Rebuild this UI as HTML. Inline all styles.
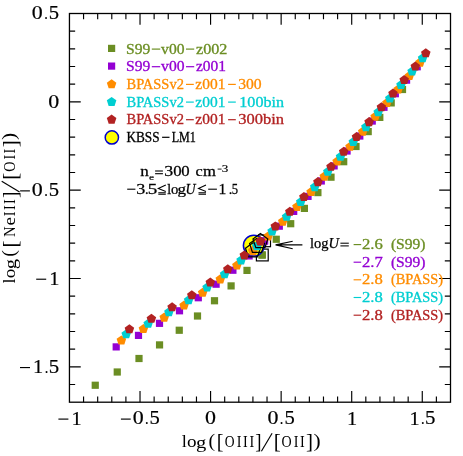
<!DOCTYPE html>
<html lang="en"><head><meta charset="utf-8"><title>chart</title><style>html,body{margin:0;padding:0;background:#fff}svg{display:block;will-change:transform}</style></head><body>
<svg width="463" height="456" viewBox="0 0 463 456">
<rect width="463" height="456" fill="#fff"/>
<g>
<rect x="91.65" y="381.65" width="7.20" height="7.20" fill="#6b8e23"/>
<rect x="113.65" y="368.40" width="7.20" height="7.20" fill="#6b8e23"/>
<rect x="135.40" y="354.90" width="7.20" height="7.20" fill="#6b8e23"/>
<rect x="155.95" y="341.30" width="7.20" height="7.20" fill="#6b8e23"/>
<rect x="175.65" y="326.65" width="7.20" height="7.20" fill="#6b8e23"/>
<rect x="193.90" y="312.40" width="7.20" height="7.20" fill="#6b8e23"/>
<rect x="210.90" y="297.15" width="7.20" height="7.20" fill="#6b8e23"/>
<rect x="227.50" y="282.30" width="7.20" height="7.20" fill="#6b8e23"/>
<rect x="243.40" y="266.80" width="7.20" height="7.20" fill="#6b8e23"/>
<rect x="258.40" y="251.40" width="7.20" height="7.20" fill="#6b8e23"/>
<rect x="272.65" y="235.65" width="7.20" height="7.20" fill="#6b8e23"/>
<rect x="287.10" y="220.10" width="7.20" height="7.20" fill="#6b8e23"/>
<rect x="300.80" y="204.80" width="7.20" height="7.20" fill="#6b8e23"/>
<rect x="314.30" y="189.00" width="7.20" height="7.20" fill="#6b8e23"/>
<rect x="327.40" y="173.60" width="7.20" height="7.20" fill="#6b8e23"/>
<rect x="340.10" y="158.10" width="7.20" height="7.20" fill="#6b8e23"/>
<rect x="352.40" y="142.90" width="7.20" height="7.20" fill="#6b8e23"/>
<rect x="364.60" y="128.00" width="7.20" height="7.20" fill="#6b8e23"/>
<rect x="376.20" y="113.80" width="7.20" height="7.20" fill="#6b8e23"/>
<rect x="387.60" y="99.30" width="7.20" height="7.20" fill="#6b8e23"/>
<rect x="398.90" y="85.90" width="7.20" height="7.20" fill="#6b8e23"/>
<rect x="256.40" y="249.10" width="11.80" height="11.80" fill="none" stroke="#000" stroke-width="1.2"/>
<rect x="258.70" y="251.40" width="7.20" height="7.20" fill="#6b8e23"/>
<rect x="112.60" y="343.30" width="7.20" height="7.20" fill="#9400d3"/>
<rect x="134.90" y="331.79" width="7.20" height="7.20" fill="#9400d3"/>
<rect x="155.90" y="319.74" width="7.20" height="7.20" fill="#9400d3"/>
<rect x="175.90" y="307.18" width="7.20" height="7.20" fill="#9400d3"/>
<rect x="194.70" y="294.14" width="7.20" height="7.20" fill="#9400d3"/>
<rect x="212.50" y="280.60" width="7.20" height="7.20" fill="#9400d3"/>
<rect x="229.30" y="266.63" width="7.20" height="7.20" fill="#9400d3"/>
<rect x="245.50" y="252.31" width="7.20" height="7.20" fill="#9400d3"/>
<rect x="260.90" y="237.42" width="7.20" height="7.20" fill="#9400d3"/>
<rect x="275.70" y="222.59" width="7.20" height="7.20" fill="#9400d3"/>
<rect x="290.10" y="207.77" width="7.20" height="7.20" fill="#9400d3"/>
<rect x="304.44" y="192.77" width="7.20" height="7.20" fill="#9400d3"/>
<rect x="317.68" y="177.38" width="7.20" height="7.20" fill="#9400d3"/>
<rect x="330.52" y="162.29" width="7.20" height="7.20" fill="#9400d3"/>
<rect x="343.46" y="147.41" width="7.20" height="7.20" fill="#9400d3"/>
<rect x="356.20" y="132.43" width="7.20" height="7.20" fill="#9400d3"/>
<rect x="368.64" y="117.46" width="7.20" height="7.20" fill="#9400d3"/>
<rect x="380.38" y="103.68" width="7.20" height="7.20" fill="#9400d3"/>
<rect x="391.72" y="90.11" width="7.20" height="7.20" fill="#9400d3"/>
<rect x="402.96" y="76.54" width="7.20" height="7.20" fill="#9400d3"/>
<rect x="413.60" y="63.16" width="7.20" height="7.20" fill="#9400d3"/>
<rect x="258.70" y="234.90" width="11.80" height="11.80" fill="none" stroke="#000" stroke-width="1.2"/>
<rect x="261.00" y="237.20" width="7.20" height="7.20" fill="#9400d3"/>
<circle cx="253.8" cy="245.6" r="10.4" fill="#ffff00" stroke="#0000cd" stroke-width="1.5"/>
<polygon points="121.40,335.40 126.16,338.85 124.34,344.45 118.46,344.45 116.64,338.85" fill="#ff8c00"/>
<polygon points="143.42,324.05 148.17,327.50 146.35,333.10 140.48,333.10 138.66,327.50" fill="#ff8c00"/>
<polygon points="164.23,312.60 168.99,316.05 167.17,321.65 161.29,321.65 159.47,316.05" fill="#ff8c00"/>
<polygon points="184.05,300.45 188.80,303.90 186.98,309.50 181.11,309.50 179.29,303.90" fill="#ff8c00"/>
<polygon points="202.66,287.70 207.42,291.15 205.60,296.75 199.72,296.75 197.90,291.15" fill="#ff8c00"/>
<polygon points="220.28,274.35 225.03,277.80 223.21,283.40 217.34,283.40 215.52,277.80" fill="#ff8c00"/>
<polygon points="236.89,260.50 241.65,263.95 239.83,269.55 233.95,269.55 232.13,263.95" fill="#ff8c00"/>
<polygon points="252.91,246.25 257.66,249.70 255.84,255.30 249.97,255.30 248.15,249.70" fill="#ff8c00"/>
<polygon points="268.12,231.40 272.88,234.85 271.06,240.45 265.18,240.45 263.36,234.85" fill="#ff8c00"/>
<polygon points="282.74,216.65 287.49,220.10 285.67,225.70 279.80,225.70 277.98,220.10" fill="#ff8c00"/>
<polygon points="296.95,201.90 301.71,205.35 299.89,210.95 294.01,210.95 292.19,205.35" fill="#ff8c00"/>
<polygon points="311.06,186.95 315.82,190.40 314.00,196.00 308.13,196.00 306.31,190.40" fill="#ff8c00"/>
<polygon points="324.28,171.60 329.04,175.05 327.22,180.65 321.34,180.65 319.52,175.05" fill="#ff8c00"/>
<polygon points="337.09,156.55 341.85,160.00 340.03,165.60 334.16,165.60 332.34,160.00" fill="#ff8c00"/>
<polygon points="350.01,141.70 354.77,145.15 352.95,150.75 347.07,150.75 345.25,145.15" fill="#ff8c00"/>
<polygon points="362.73,126.75 367.48,130.20 365.66,135.80 359.79,135.80 357.97,130.20" fill="#ff8c00"/>
<polygon points="375.14,111.80 379.90,115.25 378.08,120.85 372.20,120.85 370.38,115.25" fill="#ff8c00"/>
<polygon points="386.85,98.05 391.61,101.50 389.79,107.10 383.92,107.10 382.10,101.50" fill="#ff8c00"/>
<polygon points="398.17,84.50 402.93,87.95 401.11,93.55 395.23,93.55 393.41,87.95" fill="#ff8c00"/>
<polygon points="409.38,70.95 414.14,74.40 412.32,80.00 406.45,80.00 404.63,74.40" fill="#ff8c00"/>
<polygon points="420.00,57.60 424.76,61.05 422.94,66.65 417.06,66.65 415.24,61.05" fill="#ff8c00"/>
<polygon points="252.90,242.80 260.32,248.19 257.48,256.91 248.32,256.91 245.48,248.19" fill="none" stroke="#000" stroke-width="1.2" stroke-linejoin="miter"/>
<polygon points="252.90,245.60 257.66,249.05 255.84,254.65 249.96,254.65 248.14,249.05" fill="#ff8c00"/>
<polygon points="126.20,329.30 130.96,332.75 129.14,338.35 123.26,338.35 121.44,332.75" fill="#00ced1"/>
<polygon points="148.20,318.70 152.96,322.15 151.14,327.75 145.26,327.75 143.44,322.15" fill="#00ced1"/>
<polygon points="168.90,307.30 173.66,310.75 171.84,316.35 165.96,316.35 164.14,310.75" fill="#00ced1"/>
<polygon points="188.60,295.20 193.36,298.65 191.54,304.25 185.66,304.25 183.84,298.65" fill="#00ced1"/>
<polygon points="207.10,282.50 211.86,285.95 210.04,291.55 204.16,291.55 202.34,285.95" fill="#00ced1"/>
<polygon points="224.60,269.20 229.36,272.65 227.54,278.25 221.66,278.25 219.84,272.65" fill="#00ced1"/>
<polygon points="241.10,255.40 245.86,258.85 244.04,264.45 238.16,264.45 236.34,258.85" fill="#00ced1"/>
<polygon points="257.00,241.20 261.76,244.65 259.94,250.25 254.06,250.25 252.24,244.65" fill="#00ced1"/>
<polygon points="272.10,226.40 276.86,229.85 275.04,235.45 269.16,235.45 267.34,229.85" fill="#00ced1"/>
<polygon points="286.60,211.70 291.36,215.15 289.54,220.75 283.66,220.75 281.84,215.15" fill="#00ced1"/>
<polygon points="300.70,197.00 305.46,200.45 303.64,206.05 297.76,206.05 295.94,200.45" fill="#00ced1"/>
<polygon points="314.70,182.10 319.46,185.55 317.64,191.15 311.76,191.15 309.94,185.55" fill="#00ced1"/>
<polygon points="327.80,166.80 332.56,170.25 330.74,175.85 324.86,175.85 323.04,170.25" fill="#00ced1"/>
<polygon points="340.50,151.80 345.26,155.25 343.44,160.85 337.56,160.85 335.74,155.25" fill="#00ced1"/>
<polygon points="353.30,137.00 358.06,140.45 356.24,146.05 350.36,146.05 348.54,140.45" fill="#00ced1"/>
<polygon points="365.90,122.10 370.66,125.55 368.84,131.15 362.96,131.15 361.14,125.55" fill="#00ced1"/>
<polygon points="378.20,107.20 382.96,110.65 381.14,116.25 375.26,116.25 373.44,110.65" fill="#00ced1"/>
<polygon points="389.80,93.50 394.56,96.95 392.74,102.55 386.86,102.55 385.04,96.95" fill="#00ced1"/>
<polygon points="401.00,80.00 405.76,83.45 403.94,89.05 398.06,89.05 396.24,83.45" fill="#00ced1"/>
<polygon points="412.10,66.50 416.86,69.95 415.04,75.55 409.16,75.55 407.34,69.95" fill="#00ced1"/>
<polygon points="422.60,53.20 427.36,56.65 425.54,62.25 419.66,62.25 417.84,56.65" fill="#00ced1"/>
<polygon points="257.00,238.20 264.42,243.59 261.58,252.31 252.42,252.31 249.58,243.59" fill="none" stroke="#000" stroke-width="1.2" stroke-linejoin="miter"/>
<polygon points="257.00,241.00 261.76,244.45 259.94,250.05 254.06,250.05 252.24,244.45" fill="#00ced1"/>
<polygon points="129.40,324.30 134.16,327.75 132.34,333.35 126.46,333.35 124.64,327.75" fill="#b22222"/>
<polygon points="151.40,313.70 156.16,317.15 154.34,322.75 148.46,322.75 146.64,317.15" fill="#b22222"/>
<polygon points="172.10,302.30 176.86,305.75 175.04,311.35 169.16,311.35 167.34,305.75" fill="#b22222"/>
<polygon points="191.80,290.20 196.56,293.65 194.74,299.25 188.86,299.25 187.04,293.65" fill="#b22222"/>
<polygon points="210.30,277.50 215.06,280.95 213.24,286.55 207.36,286.55 205.54,280.95" fill="#b22222"/>
<polygon points="227.80,264.20 232.56,267.65 230.74,273.25 224.86,273.25 223.04,267.65" fill="#b22222"/>
<polygon points="244.30,250.40 249.06,253.85 247.24,259.45 241.36,259.45 239.54,253.85" fill="#b22222"/>
<polygon points="260.20,236.20 264.96,239.65 263.14,245.25 257.26,245.25 255.44,239.65" fill="#b22222"/>
<polygon points="275.30,221.40 280.06,224.85 278.24,230.45 272.36,230.45 270.54,224.85" fill="#b22222"/>
<polygon points="289.80,206.70 294.56,210.15 292.74,215.75 286.86,215.75 285.04,210.15" fill="#b22222"/>
<polygon points="303.90,192.00 308.66,195.45 306.84,201.05 300.96,201.05 299.14,195.45" fill="#b22222"/>
<polygon points="317.90,177.10 322.66,180.55 320.84,186.15 314.96,186.15 313.14,180.55" fill="#b22222"/>
<polygon points="331.00,161.80 335.76,165.25 333.94,170.85 328.06,170.85 326.24,165.25" fill="#b22222"/>
<polygon points="343.70,146.80 348.46,150.25 346.64,155.85 340.76,155.85 338.94,150.25" fill="#b22222"/>
<polygon points="356.50,132.00 361.26,135.45 359.44,141.05 353.56,141.05 351.74,135.45" fill="#b22222"/>
<polygon points="369.10,117.10 373.86,120.55 372.04,126.15 366.16,126.15 364.34,120.55" fill="#b22222"/>
<polygon points="381.40,102.20 386.16,105.65 384.34,111.25 378.46,111.25 376.64,105.65" fill="#b22222"/>
<polygon points="393.00,88.50 397.76,91.95 395.94,97.55 390.06,97.55 388.24,91.95" fill="#b22222"/>
<polygon points="404.20,75.00 408.96,78.45 407.14,84.05 401.26,84.05 399.44,78.45" fill="#b22222"/>
<polygon points="415.30,61.50 420.06,64.95 418.24,70.55 412.36,70.55 410.54,64.95" fill="#b22222"/>
<polygon points="425.80,48.20 430.56,51.65 428.74,57.25 422.86,57.25 421.04,51.65" fill="#b22222"/>
<polygon points="260.40,233.60 267.82,238.99 264.98,247.71 255.82,247.71 252.98,238.99" fill="none" stroke="#000" stroke-width="1.2" stroke-linejoin="miter"/>
<polygon points="260.40,236.40 265.16,239.85 263.34,245.45 257.46,245.45 255.64,239.85" fill="#b22222"/>
</g>
<g stroke="#000" stroke-width="1.3" fill="none" stroke-linecap="butt">
<rect x="69.45" y="13.5" width="381.05" height="388.70"/>
<path stroke-width="1.15" d="M83.56 402.2v-5.7M83.56 13.5v5.7M97.68 402.2v-5.7M97.68 13.5v5.7M111.79 402.2v-5.7M111.79 13.5v5.7M125.90 402.2v-5.7M125.90 13.5v5.7M140.02 402.2v-11.3M140.02 13.5v11.3M154.13 402.2v-5.7M154.13 13.5v5.7M168.24 402.2v-5.7M168.24 13.5v5.7M182.35 402.2v-5.7M182.35 13.5v5.7M196.47 402.2v-5.7M196.47 13.5v5.7M210.58 402.2v-11.3M210.58 13.5v11.3M224.69 402.2v-5.7M224.69 13.5v5.7M238.81 402.2v-5.7M238.81 13.5v5.7M252.92 402.2v-5.7M252.92 13.5v5.7M267.03 402.2v-5.7M267.03 13.5v5.7M281.14 402.2v-11.3M281.14 13.5v11.3M295.26 402.2v-5.7M295.26 13.5v5.7M309.37 402.2v-5.7M309.37 13.5v5.7M323.48 402.2v-5.7M323.48 13.5v5.7M337.60 402.2v-5.7M337.60 13.5v5.7M351.71 402.2v-11.3M351.71 13.5v11.3M365.82 402.2v-5.7M365.82 13.5v5.7M379.94 402.2v-5.7M379.94 13.5v5.7M394.05 402.2v-5.7M394.05 13.5v5.7M408.16 402.2v-5.7M408.16 13.5v5.7M422.27 402.2v-11.3M422.27 13.5v11.3M436.39 402.2v-5.7M436.39 13.5v5.7M69.45 384.53h5.7M450.5 384.53h-5.7M69.45 366.86h11.3M450.5 366.86h-11.3M69.45 349.19h5.7M450.5 349.19h-5.7M69.45 331.52h5.7M450.5 331.52h-5.7M69.45 313.86h5.7M450.5 313.86h-5.7M69.45 296.19h5.7M450.5 296.19h-5.7M69.45 278.52h11.3M450.5 278.52h-11.3M69.45 260.85h5.7M450.5 260.85h-5.7M69.45 243.18h5.7M450.5 243.18h-5.7M69.45 225.52h5.7M450.5 225.52h-5.7M69.45 207.85h5.7M450.5 207.85h-5.7M69.45 190.18h11.3M450.5 190.18h-11.3M69.45 172.51h5.7M450.5 172.51h-5.7M69.45 154.84h5.7M450.5 154.84h-5.7M69.45 137.18h5.7M450.5 137.18h-5.7M69.45 119.51h5.7M450.5 119.51h-5.7M69.45 101.84h11.3M450.5 101.84h-11.3M69.45 84.17h5.7M450.5 84.17h-5.7M69.45 66.50h5.7M450.5 66.50h-5.7M69.45 48.84h5.7M450.5 48.84h-5.7M69.45 31.17h5.7M450.5 31.17h-5.7"/>
</g>
<g font-size="20" font-family="Liberation Serif, serif" fill="#000" stroke="#000" stroke-width="0.2">
<path d="M58.40 419.10H68.40" stroke="#000" stroke-width="1.15"/><text transform="matrix(1.0226 0 0 0.9240 71.50 424.50)">1</text>
<path d="M120.92 419.10H130.72" stroke="#000" stroke-width="1.15"/><text transform="matrix(1.0971 0 0 0.9040 132.68 424.32)">0</text><text transform="matrix(0.7193 0 0 0.8040 144.97 424.27)">.</text><text transform="matrix(1.0302 0 0 0.9179 149.62 424.32)">5</text>
<text transform="matrix(1.0971 0 0 0.9040 205.09 424.32)">0</text>
<text transform="matrix(1.0971 0 0 0.9040 267.51 424.32)">0</text><text transform="matrix(0.7193 0 0 0.8040 279.80 424.27)">.</text><text transform="matrix(1.0302 0 0 0.9179 284.45 424.32)">5</text>
<text transform="matrix(1.0226 0 0 0.9240 346.91 424.50)">1</text>
<text transform="matrix(1.0226 0 0 0.9240 409.38 424.50)">1</text><text transform="matrix(0.7193 0 0 0.8040 420.93 424.27)">.</text><text transform="matrix(1.0426 0 0 0.9179 424.96 424.32)">5</text>
<text transform="matrix(1.0971 0 0 0.9040 31.86 19.42)">0</text><text transform="matrix(0.7193 0 0 0.8040 44.15 19.37)">.</text><text transform="matrix(1.0302 0 0 0.9179 48.80 19.42)">5</text>
<text transform="matrix(1.0971 0 0 0.9040 48.16 107.76)">0</text>
<path d="M20.10 190.88H29.90" stroke="#000" stroke-width="1.15"/><text transform="matrix(1.0971 0 0 0.9040 31.86 196.10)">0</text><text transform="matrix(0.7193 0 0 0.8040 44.15 196.05)">.</text><text transform="matrix(1.0302 0 0 0.9179 48.80 196.10)">5</text>
<path d="M36.20 279.22H46.20" stroke="#000" stroke-width="1.15"/><text transform="matrix(1.0226 0 0 0.9240 49.30 284.62)">1</text>
<path d="M20.00 367.56H30.00" stroke="#000" stroke-width="1.15"/><text transform="matrix(1.0226 0 0 0.9240 33.10 372.96)">1</text><text transform="matrix(0.7193 0 0 0.8040 44.65 372.73)">.</text><text transform="matrix(1.0426 0 0 0.9179 48.69 372.78)">5</text>
</g>
<g font-size="20" font-family="Liberation Serif, serif" fill="#000">
<g transform="translate(182.1,447)"><text transform="matrix(0.9252 0 0 0.8864 -0.37 0.00)">l</text><text transform="matrix(0.9556 0 0 0.8525 4.97 0.03)">o</text><text transform="matrix(1.0274 0 0 0.8368 13.92 0.59)">g</text><text transform="matrix(0.9929 0 0 0.9871 26.43 -0.00)">(</text><text transform="matrix(1.0105 0 0 1.0814 34.70 1.31)">[</text><text transform="matrix(0.6795 0 0 0.8781 42.54 0.03)">O</text><text transform="matrix(0.7069 0 0 0.8782 54.69 0.00)">I</text><text transform="matrix(0.7069 0 0 0.8782 60.99 0.00)">I</text><text transform="matrix(0.7069 0 0 0.8782 67.29 0.00)">I</text><text transform="matrix(0.9432 0 0 1.0814 73.22 1.31)">]</text><path d="M79.30 4.20L90.00 -13.70" stroke="#000" stroke-width="1.15" fill="none"/><text transform="matrix(1.0554 0 0 1.0814 91.53 1.31)">[</text><text transform="matrix(0.7030 0 0 0.8781 99.42 0.03)">O</text><text transform="matrix(0.7069 0 0 0.8782 111.59 0.00)">I</text><text transform="matrix(0.7069 0 0 0.8782 117.79 0.00)">I</text><text transform="matrix(1.0554 0 0 1.0814 123.94 1.31)">]</text><text transform="matrix(1.0707 0 0 0.9871 131.31 -0.00)">)</text></g>
<g transform="translate(15.4,283.2) rotate(-90)"><text transform="matrix(0.9252 0 0 0.8864 -0.37 0.00)">l</text><text transform="matrix(0.9556 0 0 0.8525 4.97 0.03)">o</text><text transform="matrix(1.0274 0 0 0.8368 13.92 0.59)">g</text><text transform="matrix(0.9929 0 0 0.9871 26.43 -0.00)">(</text><text transform="matrix(1.0330 0 0 1.0814 35.67 1.31)">[</text><text transform="matrix(0.7309 0 0 0.8782 46.08 0.00)">N</text><text transform="matrix(0.9592 0 0 0.8525 57.75 0.03)">e</text><text transform="matrix(0.7069 0 0 0.8782 66.89 0.00)">I</text><text transform="matrix(0.7069 0 0 0.8782 73.09 0.00)">I</text><text transform="matrix(0.7069 0 0 0.8782 79.29 0.00)">I</text><text transform="matrix(0.9432 0 0 1.0814 85.22 1.31)">]</text><path d="M91.30 4.20L102.00 -13.70" stroke="#000" stroke-width="1.15" fill="none"/><text transform="matrix(1.0554 0 0 1.0814 103.53 1.31)">[</text><text transform="matrix(0.7030 0 0 0.8781 111.42 0.03)">O</text><text transform="matrix(0.7069 0 0 0.8782 123.59 0.00)">I</text><text transform="matrix(0.7069 0 0 0.8782 129.79 0.00)">I</text><text transform="matrix(1.0554 0 0 1.0814 135.94 1.31)">]</text><text transform="matrix(1.0707 0 0 0.9871 143.31 -0.00)">)</text></g>
</g>
<rect x="108.00" y="44.80" width="7.20" height="7.20" fill="#6b8e23"/>
<rect x="108.00" y="62.50" width="7.20" height="7.20" fill="#9400d3"/>
<polygon points="111.60,79.20 116.36,82.65 114.54,88.25 108.66,88.25 106.84,82.65" fill="#ff8c00"/>
<polygon points="111.60,96.90 116.36,100.35 114.54,105.95 108.66,105.95 106.84,100.35" fill="#00ced1"/>
<polygon points="111.60,114.60 116.36,118.05 114.54,123.65 108.66,123.65 106.84,118.05" fill="#b22222"/>
<circle cx="111.85" cy="137.45" r="6.65" fill="#ffff00" stroke="#0000cd" stroke-width="1.5"/>
<g stroke-width="0.3">
<text x="126.1" y="53.7" font-size="14" fill="#6b8e23" text-anchor="start" font-family="Liberation Serif, serif" textLength="24.3" lengthAdjust="spacingAndGlyphs" stroke="#6b8e23">S99</text><path d="M151.8 49.1H160.2" stroke="#6b8e23" stroke-width="1.2"/><text x="161.1" y="53.7" font-size="14" fill="#6b8e23" text-anchor="start" font-family="Liberation Serif, serif" textLength="23.4" lengthAdjust="spacingAndGlyphs" stroke="#6b8e23">v00</text><path d="M186.0 49.1H194.2" stroke="#6b8e23" stroke-width="1.2"/><text x="196.0" y="53.7" font-size="14" fill="#6b8e23" text-anchor="start" font-family="Liberation Serif, serif" textLength="31.4" lengthAdjust="spacingAndGlyphs" stroke="#6b8e23">z002</text>
<text x="126.1" y="71.3" font-size="14" fill="#9400d3" text-anchor="start" font-family="Liberation Serif, serif" textLength="24.3" lengthAdjust="spacingAndGlyphs" stroke="#9400d3">S99</text><path d="M151.8 66.7H160.2" stroke="#9400d3" stroke-width="1.2"/><text x="161.1" y="71.3" font-size="14" fill="#9400d3" text-anchor="start" font-family="Liberation Serif, serif" textLength="23.4" lengthAdjust="spacingAndGlyphs" stroke="#9400d3">v00</text><path d="M186.0 66.7H194.2" stroke="#9400d3" stroke-width="1.2"/><text x="196.0" y="71.3" font-size="14" fill="#9400d3" text-anchor="start" font-family="Liberation Serif, serif" textLength="30.1" lengthAdjust="spacingAndGlyphs" stroke="#9400d3">z001</text>
<text x="126.5" y="89.0" font-size="14" fill="#ff8c00" text-anchor="start" font-family="Liberation Serif, serif" textLength="57.4" lengthAdjust="spacingAndGlyphs" stroke="#ff8c00">BPASSv2</text><path d="M186.0 84.4H193.8" stroke="#ff8c00" stroke-width="1.2"/><text x="195.3" y="89.0" font-size="14" fill="#ff8c00" text-anchor="start" font-family="Liberation Serif, serif" textLength="30.1" lengthAdjust="spacingAndGlyphs" stroke="#ff8c00">z001</text><path d="M228.1 84.4H235.8" stroke="#ff8c00" stroke-width="1.2"/><text x="238.2" y="89.0" font-size="14" fill="#ff8c00" text-anchor="start" font-family="Liberation Serif, serif" textLength="23.5" lengthAdjust="spacingAndGlyphs" stroke="#ff8c00">300</text>
<text x="126.5" y="106.7" font-size="14" fill="#00ced1" text-anchor="start" font-family="Liberation Serif, serif" textLength="57.4" lengthAdjust="spacingAndGlyphs" stroke="#00ced1">BPASSv2</text><path d="M186.0 102.1H193.8" stroke="#00ced1" stroke-width="1.2"/><text x="195.3" y="106.7" font-size="14" fill="#00ced1" text-anchor="start" font-family="Liberation Serif, serif" textLength="30.1" lengthAdjust="spacingAndGlyphs" stroke="#00ced1">z001</text><path d="M228.1 102.1H235.8" stroke="#00ced1" stroke-width="1.2"/><text x="239.3" y="106.7" font-size="14" fill="#00ced1" text-anchor="start" font-family="Liberation Serif, serif" textLength="44.7" lengthAdjust="spacingAndGlyphs" stroke="#00ced1">100bin</text>
<text x="126.5" y="124.3" font-size="14" fill="#b22222" text-anchor="start" font-family="Liberation Serif, serif" textLength="57.4" lengthAdjust="spacingAndGlyphs" stroke="#b22222">BPASSv2</text><path d="M186.0 119.7H193.8" stroke="#b22222" stroke-width="1.2"/><text x="195.3" y="124.3" font-size="14" fill="#b22222" text-anchor="start" font-family="Liberation Serif, serif" textLength="30.1" lengthAdjust="spacingAndGlyphs" stroke="#b22222">z001</text><path d="M228.1 119.7H235.8" stroke="#b22222" stroke-width="1.2"/><text x="238.2" y="124.3" font-size="14" fill="#b22222" text-anchor="start" font-family="Liberation Serif, serif" textLength="45.8" lengthAdjust="spacingAndGlyphs" stroke="#b22222">300bin</text>
<text x="126.4" y="141.9" font-size="14" fill="#000" text-anchor="start" font-family="Liberation Serif, serif" textLength="33.2" lengthAdjust="spacingAndGlyphs" stroke="#000">KBSS</text><path d="M162.1 137.3H169.5" stroke="#000" stroke-width="1.2"/><text x="171.7" y="141.9" font-size="14" fill="#000" text-anchor="start" font-family="Liberation Serif, serif" textLength="24.2" lengthAdjust="spacingAndGlyphs" stroke="#000">LM1</text>
</g>
<g font-size="20" font-family="Liberation Serif, serif" fill="#000" stroke="#000" stroke-width="0.35">
<text transform="matrix(0.8551 0 0 0.7216 140.31 175.90)">n</text>
<text transform="matrix(0.8957 0 0 0.7293 164.34 175.76)">3</text>
<text transform="matrix(0.8376 0 0 0.7261 173.26 175.76)">0</text>
<text transform="matrix(0.8376 0 0 0.7261 181.26 175.76)">0</text>
<text transform="matrix(0.8133 0 0 0.7069 195.58 175.76)">c</text>
<text transform="matrix(0.8297 0 0 0.7216 202.95 175.90)">m</text>
<text transform="matrix(0.5809 0 0 0.4054 148.95 179.72)">e</text>
<text transform="matrix(0.6536 0 0 0.4912 221.87 172.30)">3</text>
<text transform="matrix(0.9078 0 0 0.7293 136.13 193.86)">3</text>
<text transform="matrix(0.7193 0 0 0.7193 145.05 193.80)">.</text>
<text transform="matrix(0.9557 0 0 0.7373 147.79 193.86)">5</text>
<text transform="matrix(0.6939 0 0 0.7350 167.32 193.90)">l</text>
<text transform="matrix(0.7314 0 0 0.7069 170.94 193.86)">o</text>
<text transform="matrix(0.8562 0 0 0.6859 177.56 194.24)">g</text>
<text transform="matrix(0.7811 0 0 0.7422 218.43 194.00)">1</text>
<text transform="matrix(0.7193 0 0 0.7193 228.65 193.80)">.</text>
<text transform="matrix(0.6330 0 0 0.7373 231.66 193.86)">5</text>
<text font-style="italic" transform="matrix(0.6939 0 0 0.7298 185.43 193.86)">U</text>
</g>
<path d="M155.1 171.0H162.9" stroke="#000" stroke-width="1.1"/><path d="M155.1 173.7H162.9" stroke="#000" stroke-width="1.1"/>
<path d="M217.6 169.1H221.6" stroke="#000" stroke-width="0.9"/>
<path d="M127.2 189.2H135.4" stroke="#000" stroke-width="1.1"/>
<path d="M165.8 185.10L158.3 188.40L165.8 191.50M158.3 192.80H165.8M158.3 194.30H165.8" stroke="#000" stroke-width="1.05" fill="none"/><path d="M206.0 185.10L198.5 188.40L206.0 191.50M198.5 192.80H206.0M198.5 194.30H206.0" stroke="#000" stroke-width="1.05" fill="none"/>
<path d="M208.2 189.2H216.9" stroke="#000" stroke-width="1.1"/>
<g stroke-width="0.3">
<text x="310" y="248.4" font-size="13.6" font-family="Liberation Serif, serif" stroke="#000" stroke-width="0.25" textLength="29" lengthAdjust="spacingAndGlyphs">log<tspan font-style="italic">U</tspan></text>
<path d="M340.4 243.2H348.8" stroke="#000" stroke-width="1.05"/><path d="M340.4 245.9H348.8" stroke="#000" stroke-width="1.05"/>
<path d="M353.6 244.6H361.2" stroke="#6b8e23" stroke-width="1.15"/>
<text x="362" y="249.0" font-size="13.6" fill="#6b8e23" text-anchor="start" font-family="Liberation Serif, serif" textLength="20.8" lengthAdjust="spacingAndGlyphs" stroke="#6b8e23">2.6</text>
<text x="390.9" y="249.0" font-size="13.6" fill="#6b8e23" text-anchor="start" font-family="Liberation Serif, serif" textLength="34.6" lengthAdjust="spacingAndGlyphs" stroke="#6b8e23">(S99)</text>
<path d="M353.6 262.2H361.2" stroke="#9400d3" stroke-width="1.15"/>
<text x="362" y="266.6" font-size="13.6" fill="#9400d3" text-anchor="start" font-family="Liberation Serif, serif" textLength="20.8" lengthAdjust="spacingAndGlyphs" stroke="#9400d3">2.7</text>
<text x="390.9" y="266.6" font-size="13.6" fill="#9400d3" text-anchor="start" font-family="Liberation Serif, serif" textLength="34.6" lengthAdjust="spacingAndGlyphs" stroke="#9400d3">(S99)</text>
<path d="M353.6 279.8H361.2" stroke="#ff8c00" stroke-width="1.15"/>
<text x="362" y="284.2" font-size="13.6" fill="#ff8c00" text-anchor="start" font-family="Liberation Serif, serif" textLength="20.8" lengthAdjust="spacingAndGlyphs" stroke="#ff8c00">2.8</text>
<text x="390.9" y="284.2" font-size="13.6" fill="#ff8c00" text-anchor="start" font-family="Liberation Serif, serif" textLength="52.2" lengthAdjust="spacingAndGlyphs" stroke="#ff8c00">(BPASS)</text>
<path d="M353.6 297.5H361.2" stroke="#00ced1" stroke-width="1.15"/>
<text x="362" y="301.9" font-size="13.6" fill="#00ced1" text-anchor="start" font-family="Liberation Serif, serif" textLength="20.8" lengthAdjust="spacingAndGlyphs" stroke="#00ced1">2.8</text>
<text x="390.9" y="301.9" font-size="13.6" fill="#00ced1" text-anchor="start" font-family="Liberation Serif, serif" textLength="52.2" lengthAdjust="spacingAndGlyphs" stroke="#00ced1">(BPASS)</text>
<path d="M353.6 315.2H361.2" stroke="#b22222" stroke-width="1.15"/>
<text x="362" y="319.6" font-size="13.6" fill="#b22222" text-anchor="start" font-family="Liberation Serif, serif" textLength="20.8" lengthAdjust="spacingAndGlyphs" stroke="#b22222">2.8</text>
<text x="390.9" y="319.6" font-size="13.6" fill="#b22222" text-anchor="start" font-family="Liberation Serif, serif" textLength="52.2" lengthAdjust="spacingAndGlyphs" stroke="#b22222">(BPASS)</text>
</g>
<path d="M302.4 244.9H275.6M292.7 241.2L275.6 244.9L292.7 248.7" stroke="#000" stroke-width="1.1" fill="none"/>
</svg>
</body></html>
